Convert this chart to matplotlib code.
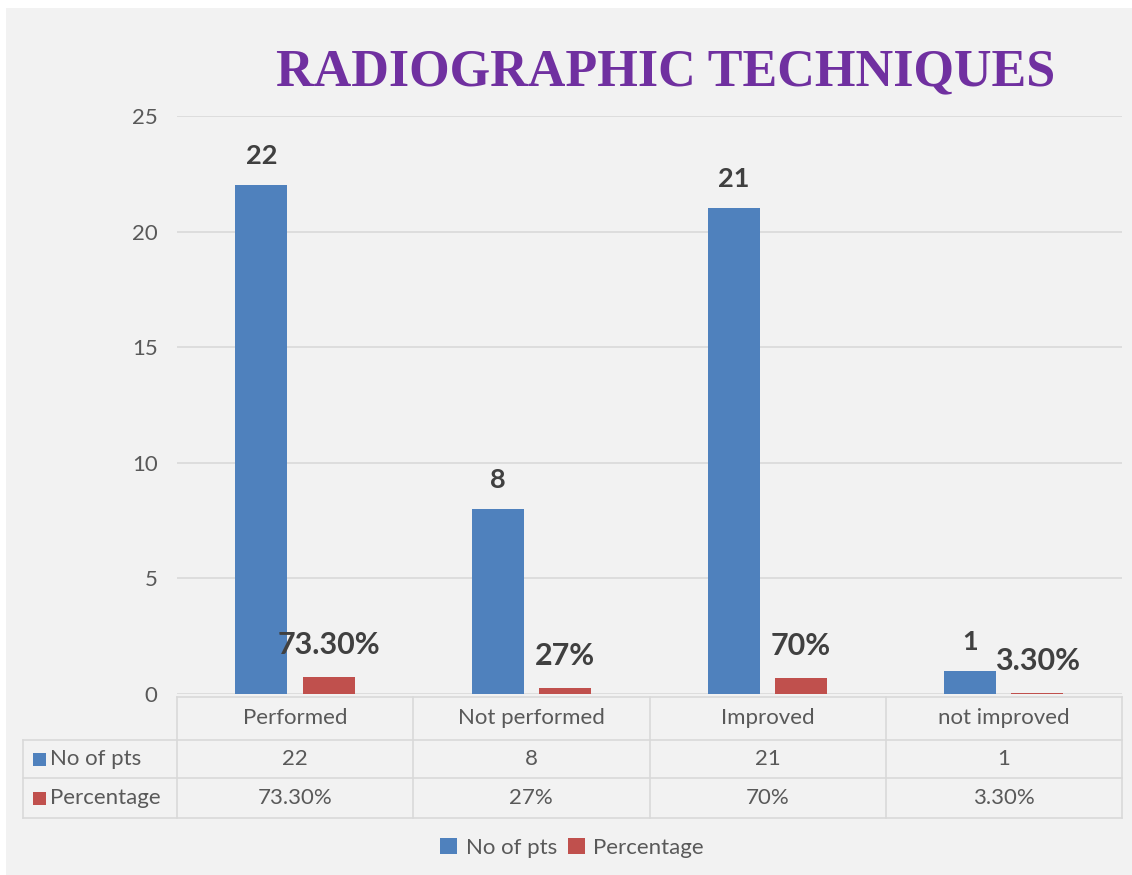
import numpy as np
import matplotlib
matplotlib.use('Agg')
import matplotlib.pyplot as plt
from matplotlib.patches import Rectangle
from matplotlib.lines import Line2D

# ===============================
# Datos
# ===============================
categories = ['Performed', 'Not performed', 'Improved', 'not improved']
no_of_pts = [22, 8, 21, 1]
percentage = [0.733, 0.27, 0.70, 0.033]
percentage_labels = ['73.30%', '27%', '70%', '3.30%']
series_names = ['No of pts', 'Percentage']
y_ticks = [0, 5, 10, 15, 20, 25]
title = 'RADIOGRAPHIC TECHNIQUES'

# ===============================
# Estilo
# ===============================
plt.rcParams['font.family'] = ['Lato', 'DejaVu Sans']
BLUE = '#4F81BD'
RED = '#C0504D'
TEXT = '#595959'
LABEL = '#404040'
GRID = '#d9d9d9'
BG = '#f2f2f2'

W, H = 1132, 875
fig = plt.figure(figsize=(W / 100, H / 100), dpi=100)
fig.patch.set_facecolor('white')


def fx(x):
    return x / W


def fy(y):
    return 1 - y / H


# fondo gris del gráfico (detrás de todo)
fig.patches.append(Rectangle((fx(6), 0), 1 - fx(6), fy(8), transform=fig.transFigure,
                             facecolor=BG, edgecolor='none', zorder=-10))

# ===============================
# Barras
# ===============================
ax = fig.add_axes([fx(177), fy(694), fx(1122 - 177), (694 - 116) / H])
ax.set_facecolor('none')
x = np.arange(len(categories))
w = 0.22
b1 = ax.bar(x - 0.143, no_of_pts, w, color=BLUE, zorder=3, label=series_names[0])
b2 = ax.bar(x + 0.142, percentage, w, color=RED, zorder=3, label=series_names[1])

for xi, v in zip(x, no_of_pts):
    ax.annotate(str(v), (xi - 0.143, v), xytext=(0, 21), textcoords='offset points',
                ha='center', va='center', fontsize=19.5, fontweight='bold', color=LABEL)
for xi, v, lab in zip(x, percentage, percentage_labels):
    ax.annotate(lab, (xi + 0.142, v), xytext=(0, 23), textcoords='offset points',
                ha='center', va='center', fontsize=22, fontweight='bold', color=LABEL)

ax.set_xlim(-0.5, len(categories) - 0.5)
ax.set_ylim(0, 25)
ax.set_yticks(y_ticks)
ax.set_xticks([])
ax.yaxis.grid(True, color=GRID, lw=1.2, zorder=0)
ax.tick_params(axis='y', length=0, pad=14, labelsize=16, labelcolor=TEXT)
for s in ax.spines.values():
    s.set_visible(False)

# ===============================
# Tabla de datos
# ===============================
edges = [ax.transData.transform((i - 0.5, 0))[0] for i in range(len(categories) + 1)]
left_px = 23
rows_px = [697, 740, 778, 818]


def hline(x0, x1, y):
    fig.add_artist(Line2D([fx(x0), fx(x1)], [fy(y), fy(y)], transform=fig.transFigure,
                          color=GRID, lw=1.2))


def vline(x, y0, y1):
    fig.add_artist(Line2D([fx(x), fx(x)], [fy(y0), fy(y1)], transform=fig.transFigure,
                          color=GRID, lw=1.2))


hline(edges[0], edges[-1], rows_px[0])
for y in rows_px[1:]:
    hline(left_px, edges[-1], y)
for e in edges:
    vline(e, rows_px[0], rows_px[-1])
vline(left_px, rows_px[1], rows_px[-1])

row_values = [[str(v) for v in no_of_pts], percentage_labels]
row_colors = [BLUE, RED]
for i, cat in enumerate(categories):
    cx = (edges[i] + edges[i + 1]) / 2
    fig.text(fx(cx), fy((rows_px[0] + rows_px[1]) / 2), cat, ha='center', va='center',
             fontsize=16, color=TEXT)
    for r in range(2):
        fig.text(fx(cx), fy((rows_px[r + 1] + rows_px[r + 2]) / 2), row_values[r][i],
                 ha='center', va='center', fontsize=16, color=TEXT)

for r in range(2):
    yc = (rows_px[r + 1] + rows_px[r + 2]) / 2
    fig.patches.append(Rectangle((fx(33), fy(yc + 7)), fx(13), 13 / H, transform=fig.transFigure,
                                 facecolor=row_colors[r], edgecolor='none', zorder=2))
    fig.text(fx(50), fy(yc), series_names[r], ha='left', va='center', fontsize=16, color=TEXT)

# ===============================
# Leyenda y título
# ===============================
fig.legend(handles=[b1, b2], labels=series_names, loc='center',
           bbox_to_anchor=(fx(572), fy(848)), ncol=2, frameon=False, fontsize=16,
           handlelength=0.75, handleheight=0.75, columnspacing=0.5, handletextpad=0.4,
           labelcolor=TEXT)

fig.text(fx(666), fy(72), title, ha='center', va='center', family='Liberation Serif',
         fontweight='bold', fontsize=37.5, color='#7030A0')

fig.savefig('out.png', dpi=100)
